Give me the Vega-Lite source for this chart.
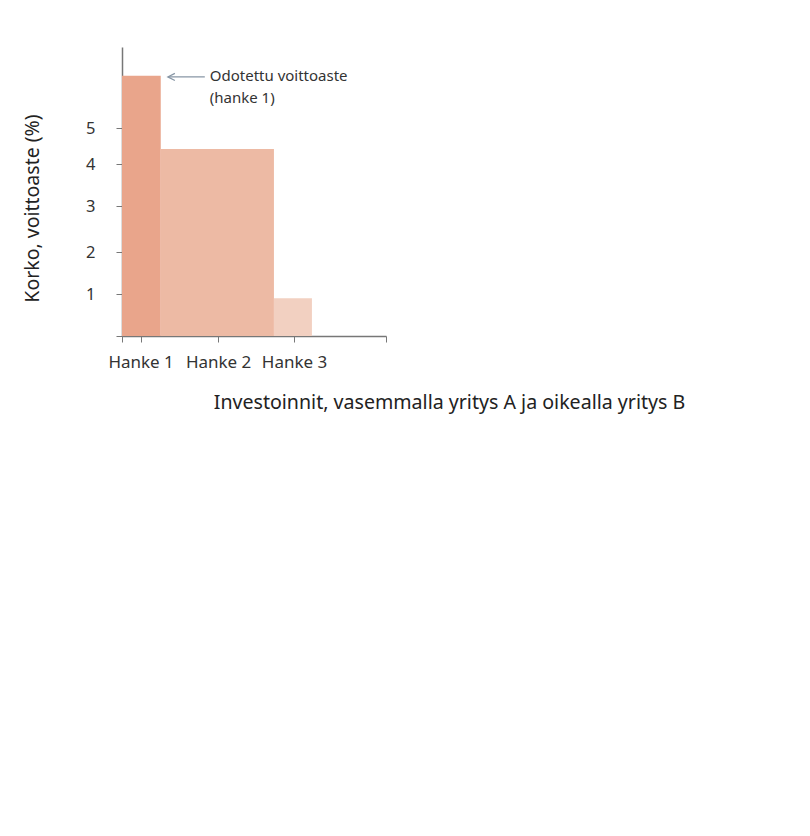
{
  "$schema": "https://vega.github.io/schema/vega-lite/v6.json",
  "width": 264,
  "height": 289,
  "autosize": {"type": "none"},
  "padding": {"left": 122, "top": 47, "right": 424, "bottom": 500},
  "background": "white",
  "datasets": {
    "bars": [
      {"name": "Hanke 1", "x": 0, "x2": 1.02, "y": 6.45},
      {"name": "Hanke 2", "x": 1.02, "x2": 4, "y": 4.42},
      {"name": "Hanke 3", "x": 4, "x2": 5, "y": 0.9}
    ],
    "arrow": [{"x": 1.22, "x2": 2.18, "y": 6.42}],
    "notes": [
      {"x": 2.31, "y": 6.45, "text": "Odotettu voittoaste"},
      {"x": 2.31, "y": 5.82, "text": "(hanke 1)"}
    ]
  },
  "layer": [
    {
      "data": {"name": "bars"},
      "mark": {"type": "rect"},
      "encoding": {
        "x": {
          "field": "x",
          "type": "quantitative",
          "scale": {"domain": [0, 6.95], "nice": false},
          "axis": {
            "title": "Investoinnit, vasemmalla yritys A ja oikealla yritys B",
            "values": [0, 0.49, 2.53, 4.53, 6.95],
            "labelExpr": "datum.value == 0.49 ? 'Hanke 1' : datum.value == 2.53 ? 'Hanke 2' : datum.value == 4.53 ? 'Hanke 3' : ''",
            "grid": false,
            "tickSize": 6,
            "labelPadding": 12,
            "labelFontSize": 17,
            "titleFontSize": 19.6,
            "titleFontWeight": "normal",
            "titleX": 327,
            "titleY": 66,
            "titleAlign": "center",
            "titleBaseline": "middle"
          }
        },
        "x2": {"field": "x2"},
        "y": {
          "field": "y",
          "type": "quantitative",
          "scale": {
            "domain": [0, 1, 2, 3, 4, 5, 7.25],
            "range": [289, 247, 205, 159, 117, 81, 0],
            "nice": false
          },
          "axis": {
            "title": "Korko, voittoaste (%)",
            "values": [0, 1, 2, 3, 4, 5],
            "labelExpr": "datum.value == 0 ? '' : datum.label",
            "grid": false,
            "tickSize": 6,
            "labelPadding": 21,
            "labelFontSize": 16.5,
            "titleFontSize": 19.5,
            "titleFontWeight": "normal",
            "titleX": -90,
            "titleY": 161,
            "titleAlign": "center",
            "titleBaseline": "middle"
          }
        },
        "y2": {"datum": 0},
        "color": {
          "field": "name",
          "type": "nominal",
          "scale": {
            "domain": ["Hanke 1", "Hanke 2", "Hanke 3"],
            "range": ["#e9a58b", "#edbaa4", "#f2d0c1"]
          },
          "legend": null
        }
      }
    },
    {
      "data": {"name": "arrow"},
      "mark": {"type": "rule", "color": "#8796a5", "strokeWidth": 1.2},
      "encoding": {
        "x": {"field": "x", "type": "quantitative"},
        "x2": {"field": "x2"},
        "y": {"field": "y", "type": "quantitative"}
      }
    },
    {
      "data": {"name": "arrow"},
      "mark": {
        "type": "point",
        "shape": "M1,-1L-1,0L1,1",
        "filled": false,
        "size": 50,
        "color": "#8796a5",
        "strokeWidth": 1.2,
        "opacity": 1,
        "xOffset": 3
      },
      "encoding": {
        "x": {"field": "x", "type": "quantitative"},
        "y": {"field": "y", "type": "quantitative"}
      }
    },
    {
      "data": {"name": "notes"},
      "mark": {
        "type": "text",
        "align": "left",
        "baseline": "middle",
        "fontSize": 15,
        "color": "#333333"
      },
      "encoding": {
        "x": {"field": "x", "type": "quantitative"},
        "y": {"field": "y", "type": "quantitative"},
        "text": {"field": "text"}
      }
    }
  ],
  "config": {
    "font": "Noto Sans",
    "view": {"stroke": null},
    "axis": {
      "domainColor": "#777777",
      "tickColor": "#777777",
      "domainWidth": 1.5,
      "labelColor": "#333333",
      "titleColor": "#222222",
      "labelFont": "Noto Sans",
      "titleFont": "Noto Sans"
    }
  }
}
